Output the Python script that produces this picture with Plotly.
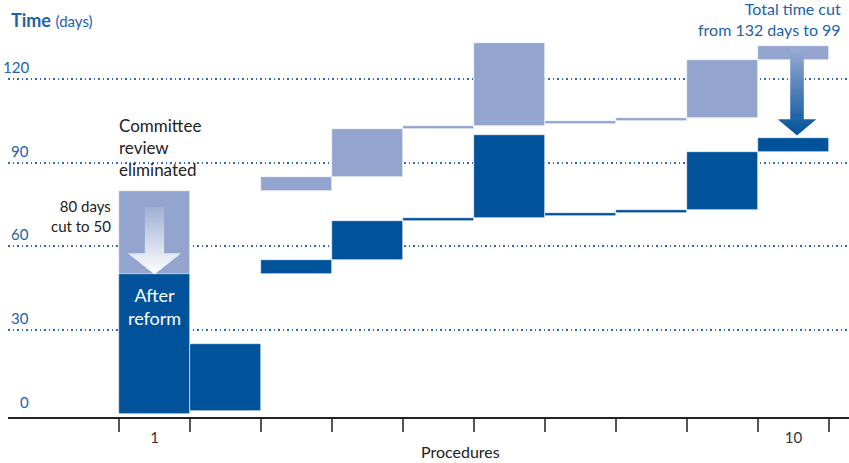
import plotly.graph_objects as go

# ---------------- data ----------------
procedures = [1, 2, 3, 4, 5, 6, 7, 8, 9, 10]
before_start = [0, 1, 80, 85, 102, 103, 104, 105, 106, 127]
before_end = [80, 25, 85, 102, 103, 133, 105, 106, 127, 132]
after_start = [0, 1, 50, 55, 69, 70, 71, 72, 73, 94]
after_end = [50, 25, 55, 69, 70, 100, 72, 73, 94, 99]
y_ticks = [0, 30, 60, 90, 120]
x_tick_vals = [1, 10]
x_tick_text = ["1", "10"]

LIGHT = "#93a5cf"
DARK = "#00529b"
BLUE_TXT = "#1c62ad"
GRID = "#2f6cb3"
FONT = "Lato"


def hex_rgb(h):
    h = h.lstrip("#")
    return tuple(int(h[i:i + 2], 16) for i in (0, 2, 4))


def mix(c1, c2, t):
    a, b = hex_rgb(c1), hex_rgb(c2)
    return "rgb(%d,%d,%d)" % tuple(round(a[i] + (b[i] - a[i]) * t) for i in range(3))


def gradient_arrow(xc, y_top, y_head, y_tip, shaft_hw, head_hw, c_top, c_bot,
                   t0=0.0, n_shaft=30, n_head=16):
    shapes = []
    total = y_top - y_tip
    ov = 0.25
    for i in range(n_shaft):
        ya = y_top - (y_top - y_head) * i / n_shaft
        yb = y_top - (y_top - y_head) * (i + 1) / n_shaft
        t = t0 + (1 - t0) * (y_top - (ya + yb) / 2) / total
        shapes.append(dict(type="rect", xref="x", yref="y", x0=xc - shaft_hw, x1=xc + shaft_hw,
                           y0=ya, y1=yb - ov, fillcolor=mix(c_top, c_bot, t),
                           line=dict(width=0), layer="above"))
    for i in range(n_head):
        ya = y_head - (y_head - y_tip) * i / n_head
        yb = y_head - (y_head - y_tip) * (i + 1) / n_head
        yb2 = yb - ov if i < n_head - 1 else yb
        hwa = head_hw * (ya - y_tip) / (y_head - y_tip)
        hwb = head_hw * (yb2 - y_tip) / (y_head - y_tip)
        t = t0 + (1 - t0) * (y_top - (ya + yb) / 2) / total
        path = "M %f,%f L %f,%f L %f,%f L %f,%f Z" % (
            xc - hwa, ya, xc + hwa, ya, xc + hwb, yb2, xc - hwb, yb2)
        shapes.append(dict(type="path", xref="x", yref="y", path=path,
                           fillcolor=mix(c_top, c_bot, t), line=dict(width=0), layer="above"))
    return shapes


fig = go.Figure()
fig.add_trace(go.Bar(
    x=procedures, y=[e - s for s, e in zip(before_start, before_end)], base=before_start,
    width=1, marker=dict(color=LIGHT, line=dict(color="white", width=0.6)),
    name="Before reform", showlegend=False, hoverinfo="skip"))
fig.add_trace(go.Bar(
    x=procedures, y=[e - s for s, e in zip(after_start, after_end)], base=after_start,
    width=1, marker=dict(color=DARK, line=dict(color="white", width=0.6)),
    name="After reform", showlegend=False, hoverinfo="skip"))

shapes = []
# white arrow inside procedure 1 (80 -> 50)
shapes += gradient_arrow(1.0, 74, 57.5, 50, 0.135, 0.375, LIGHT, "#ffffff", t0=0.12)
# dark arrow at procedure 10 (132 -> 99)
shapes += gradient_arrow(10.05, 131, 105.6, 99.8, 0.095, 0.27, "#9aabd4", "#00529b", t0=0.0)

annotations = []
for v in y_ticks:
    annotations.append(dict(xref="paper", yref="y", x=0.0273, y=v, text=str(v),
                            xanchor="right", yanchor="bottom", yshift=1, showarrow=False,
                            font=dict(family=FONT, size=15, color=BLUE_TXT)))

annotations += [
    dict(xref="paper", yref="paper", x=0.001, y=1.0258, xanchor="left", yanchor="middle",
         text="<b>Time</b> <span style='font-size:15px'>(days)</span>", showarrow=False,
         font=dict(family=FONT, size=18, color=BLUE_TXT)),
    dict(xref="paper", yref="paper", x=0.9929, y=1.0285, xanchor="right", yanchor="middle",
         align="right", text="Total time cut<br>from 132 days to 99", showarrow=False,
         font=dict(family=FONT, size=16, color=BLUE_TXT)),
    dict(xref="paper", yref="paper", x=0.1296, y=0.697, xanchor="left", yanchor="middle",
         align="left", text="Committee<br>review<br>eliminated", showarrow=False,
         font=dict(family=FONT, size=17, color="#222222")),
    dict(xref="paper", yref="paper", x=0.1245, y=0.519, xanchor="right", yanchor="middle",
         align="right", text="80 days<br>cut to 50", showarrow=False,
         font=dict(family=FONT, size=15, color="#222222")),
    dict(xref="x", yref="y", x=1, y=38.3, xanchor="center", yanchor="middle",
         align="center", text="After<br>reform", showarrow=False,
         font=dict(family=FONT, size=18, color="white")),
    dict(xref="paper", yref="paper", x=0.5375, y=-0.0895, xanchor="center", yanchor="middle",
         text="Procedures", showarrow=False,
         font=dict(family=FONT, size=16, color="#222222")),
]

fig.update_layout(
    width=849, height=463,
    margin=dict(l=8, r=0, t=30, b=46),
    paper_bgcolor="white", plot_bgcolor="white",
    barmode="overlay", bargap=0,
    font=dict(family=FONT),
    shapes=shapes, annotations=annotations,
    xaxis=dict(range=[-1.063, 10.782], showline=True, linecolor="#222222", linewidth=2,
               tickmode="array", tickvals=x_tick_vals, ticktext=x_tick_text, ticks="",
               showgrid=False, zeroline=False,
               tickfont=dict(family=FONT, size=15, color="#333333"),
               ticklabelstandoff=6,
               minor=dict(tickmode="array", tickvals=[p - 0.5 for p in procedures] + [procedures[-1] + 0.5],
                          ticks="outside", ticklen=13, tickcolor="#555555", tickwidth=2,
                          showgrid=False)),
    yaxis=dict(range=[-1.2, 137.6], tickmode="array", tickvals=y_ticks[1:],
               showticklabels=False, showgrid=True, gridcolor=GRID, gridwidth=1.5,
               griddash="1.5px,3px", zeroline=False, showline=False, ticks=""),
)

fig.write_html("out.html")
